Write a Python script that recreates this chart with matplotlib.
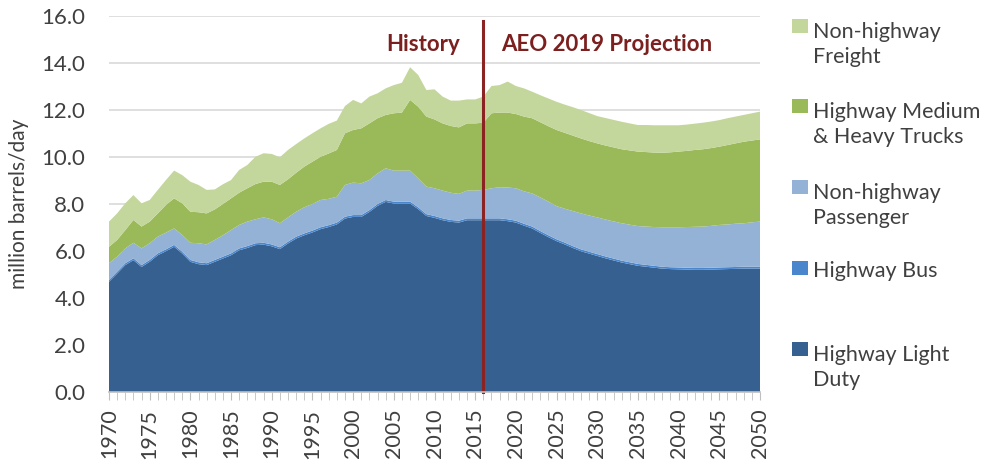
import numpy as np
import matplotlib.pyplot as plt
from matplotlib.patches import Rectangle
from matplotlib.ticker import MultipleLocator

plt.rcParams['font.family'] = ['Lato', 'DejaVu Sans']

# data (million barrels/day)
years = list(range(1970, 2051))

light_duty = [4.69, 5.04, 5.40, 5.61, 5.32, 5.54, 5.82, 5.99, 6.18, 5.89,
              5.54, 5.44, 5.40, 5.54, 5.68, 5.82, 6.03, 6.13, 6.25, 6.27,
              6.20, 6.08, 6.32, 6.53, 6.67, 6.79, 6.93, 7.02, 7.13, 7.38,
              7.45, 7.45, 7.66, 7.92, 8.09, 8.02, 8.02, 8.02, 7.78, 7.49,
              7.41, 7.31, 7.24, 7.21, 7.31, 7.31, 7.31, 7.31, 7.31, 7.27,
              7.21, 7.08, 6.96, 6.77, 6.59, 6.42, 6.28, 6.13, 5.99, 5.89,
              5.79, 5.69, 5.60, 5.51, 5.44, 5.37, 5.33, 5.29, 5.25, 5.23,
              5.22, 5.21, 5.20, 5.20, 5.21, 5.22, 5.23, 5.24, 5.25, 5.25,
              5.25]
bus = [0.08] * 81
passenger = [0.71, 0.64, 0.63, 0.66, 0.71, 0.71, 0.71, 0.71, 0.70, 0.71,
             0.73, 0.81, 0.80, 0.85, 0.91, 0.99, 1.00, 1.04, 1.02, 1.08,
             1.07, 1.02, 1.03, 1.06, 1.11, 1.13, 1.16, 1.12, 1.10, 1.35,
             1.38, 1.35, 1.28, 1.30, 1.35, 1.32, 1.32, 1.32, 1.23, 1.17,
             1.18, 1.18, 1.16, 1.14, 1.18, 1.18, 1.21, 1.28, 1.32, 1.35,
             1.38, 1.38, 1.41, 1.43, 1.43, 1.41, 1.44, 1.49, 1.53, 1.54,
             1.56, 1.57, 1.58, 1.59, 1.60, 1.61, 1.63, 1.65, 1.68, 1.70,
             1.71, 1.73, 1.75, 1.76, 1.78, 1.81, 1.82, 1.84, 1.85, 1.89,
             1.92]
trucks = [0.70, 0.71, 0.78, 0.97, 0.93, 0.92, 0.99, 1.18, 1.28, 1.35,
          1.32, 1.32, 1.32, 1.30, 1.33, 1.35, 1.37, 1.42, 1.50, 1.52,
          1.60, 1.63, 1.62, 1.66, 1.73, 1.80, 1.84, 1.93, 1.99, 2.20,
          2.24, 2.34, 2.41, 2.35, 2.27, 2.44, 2.47, 3.01, 3.05, 2.98,
          2.93, 2.86, 2.84, 2.83, 2.86, 2.86, 2.86, 3.19, 3.18, 3.19,
          3.16, 3.18, 3.20, 3.20, 3.21, 3.24, 3.23, 3.21, 3.19, 3.17,
          3.15, 3.15, 3.15, 3.15, 3.16, 3.17, 3.17, 3.17, 3.17, 3.19,
          3.22, 3.24, 3.27, 3.29, 3.31, 3.33, 3.38, 3.42, 3.47, 3.48,
          3.50]
freight = [1.07, 1.13, 1.14, 1.06, 0.99, 0.92, 1.00, 1.06, 1.18, 1.20,
           1.28, 1.16, 1.00, 0.85, 0.84, 0.78, 0.97, 0.99, 1.16, 1.21,
           1.18, 1.18, 1.25, 1.22, 1.20, 1.21, 1.21, 1.26, 1.25, 1.16,
           1.28, 1.06, 1.14, 1.06, 1.13, 1.20, 1.27, 1.39, 1.35, 1.13,
           1.28, 1.14, 1.08, 1.14, 1.02, 1.02, 1.11, 1.16, 1.17, 1.32,
           1.19, 1.20, 1.13, 1.15, 1.18, 1.20, 1.20, 1.21, 1.21, 1.19,
           1.16, 1.17, 1.17, 1.17, 1.15, 1.13, 1.15, 1.16, 1.17, 1.15,
           1.12, 1.12, 1.12, 1.13, 1.13, 1.13, 1.14, 1.14, 1.14, 1.16,
           1.18]

labels = ["Highway Light\nDuty", "Highway Bus", "Non-highway\nPassenger",
          "Highway Medium\n& Heavy Trucks", "Non-highway\nFreight"]
colors = ["#36608f", "#4a86cc", "#94b2d6", "#9aba59", "#c3d69b"]
split_year = 2016

fig = plt.figure(figsize=(9.92, 4.61), dpi=100)
ax = fig.add_axes([109/992, 1 - 392/461, 651/992, 376/461])

ax.stackplot(years, light_duty, bus, passenger, trucks, freight,
             colors=colors, linewidth=0)

ax.set_xlim(1970, 2050)
ax.set_ylim(0, 16)
ax.yaxis.set_major_locator(MultipleLocator(2))
ax.set_yticklabels([f"{v:.1f}" for v in ax.get_yticks()])
ax.xaxis.set_major_locator(MultipleLocator(5))
ax.xaxis.set_minor_locator(MultipleLocator(1))
ax.grid(axis='y', color='#d9d9d9', linewidth=1.2)
ax.set_axisbelow(True)
for s in ['top', 'right', 'left']:
    ax.spines[s].set_visible(False)
ax.spines['bottom'].set_color('#bfbfbf')
ax.spines['bottom'].set_linewidth(1.2)
ax.tick_params(axis='y', length=0, labelsize=16, labelcolor='#404040', pad=17)
ax.tick_params(axis='x', which='both', length=6, color='#bfbfbf',
               labelsize=15.5, labelcolor='#404040', labelrotation=90, pad=6)
ax.set_ylabel("million barrels/day", fontsize=15, color='#404040', labelpad=9)

# history / projection divider
ax.plot([split_year, split_year], [0, 15.8], color='#8b2323', linewidth=2.2,
        clip_on=False)
ax.text(2013.1, 14.8, "History", color='#7b1f1f', fontsize=16,
        fontweight='bold', ha='right', va='center')
ax.text(2018.2, 14.8, "AEO 2019 Projection", color='#7b1f1f', fontsize=16,
        fontweight='bold', ha='left', va='center')

# legend, top entry first; baseline given for the first line of each entry
baselines = [35, 115, 196, 277, 358]
line_gap = 28
for lab, col, yb in zip(labels[::-1], colors[::-1], baselines):
    fig.add_artist(Rectangle((792/992, 1 - (yb - 2)/461), 16/992, 14/461,
                             transform=fig.transFigure, facecolor=col,
                             edgecolor='none'))
    last = yb + line_gap * lab.count("\n")
    fig.text(813/992, 1 - last/461, lab, fontsize=15.5, color='#404040',
             ha='left', va='baseline', linespacing=1.3)

fig.savefig("out.png", dpi=100)
